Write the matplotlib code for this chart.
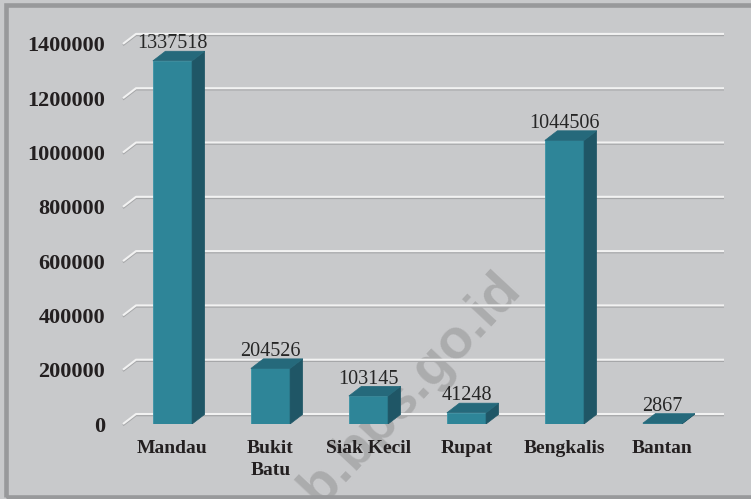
import matplotlib
matplotlib.use("Agg")
import matplotlib.pyplot as plt
from matplotlib.patches import Polygon, Rectangle
from matplotlib import transforms

# data
kecamatan = ["Mandau", "Bukit\nBatu", "Siak Kecil", "Rupat", "Bengkalis", "Bantan"]
nilai = [1337518, 204526, 103145, 41248, 1044506, 2867]
yticks = [0, 200000, 400000, 600000, 800000, 1000000, 1200000, 1400000]

# colours / sizes
BG = "#c8c9cb"
FRONT = "#2e8598"
TOP = "#25697b"
SIDE = "#1f5666"
BAR_W = 0.4
DX = 0.128        # depth in category units
DY = 35500        # depth in value units
GDX = 0.133
GDY = 36800

plt.rcParams["font.family"] = "Liberation Serif"

fig = plt.figure(figsize=(7.51, 4.99), dpi=100, facecolor=BG)
ax = fig.add_axes([123 / 751, 75 / 499, 601 / 751, 400 / 499])
ax.set_facecolor("none")
ax.set_xlim(-0.505, 5.628)
ax.set_ylim(0, 1473300)
for s in ax.spines.values():
    s.set_visible(False)

# gridlines on the back wall with a little diagonal stub in front
x0, x1 = ax.get_xlim()
shadow = transforms.offset_copy(ax.transData, fig=fig, x=0, y=-1.0, units="points")
for v in yticks:
    xs = [x0, x0 + GDX, x1]
    ys = [v, v + GDY, v + GDY]
    ax.plot(xs, ys, color="#a6a7a9", lw=1.3, transform=shadow, zorder=1,
            clip_on=False, solid_capstyle="butt")
    ax.plot(xs, ys, color="#f2f2f2", lw=1.5, zorder=1.1, clip_on=False,
            solid_capstyle="butt")

# bars with fake 3d faces
for i, v in enumerate(nilai):
    l = i - BAR_W / 2
    r = i + BAR_W / 2
    ax.add_patch(Rectangle((l, 0), BAR_W, v, facecolor=FRONT,
                           edgecolor="#3a93a6", lw=0.6, zorder=3))
    ax.add_patch(Polygon([(r, 0), (r + DX, DY), (r + DX, v + DY), (r, v)],
                         closed=True, facecolor=SIDE, edgecolor=SIDE, lw=0.5, zorder=3))
    ax.add_patch(Polygon([(l, v), (r, v), (r + DX, v + DY), (l + DX, v + DY)],
                         closed=True, facecolor=TOP, edgecolor=TOP, lw=0.5, zorder=3))
    ax.annotate(str(v), (i, v + DY), xytext=(0, 2), textcoords="offset points",
                ha="center", va="baseline", fontsize=14.5, color="#262626", zorder=4)

ax.set_xticks(range(len(kecamatan)))
ax.set_xticklabels(kecamatan, fontweight="bold", fontsize=14, color="#231f20",
                   linespacing=1.4)
ax.set_yticks(yticks)
ax.set_yticklabels([str(t) for t in yticks], fontweight="bold", fontsize=16,
                   color="#231f20")
ax.tick_params(axis="both", length=0)
ax.tick_params(axis="y", pad=13)
ax.tick_params(axis="x", pad=11.5)

# watermark, sits behind the chart
fig.text(522 / 751, (499 - 290) / 499, "bengkaliskab.bps.go.id", family="Liberation Sans",
         fontweight="bold", fontsize=40, color="#808080", alpha=0.4,
         rotation=47, rotation_mode="anchor", ha="right", va="baseline", zorder=-1)

# frame of the picture (right side is cut off)
fig.add_artist(Rectangle((5.5 / 751, 2 / 499), 1.05, 491.7 / 499,
                         transform=fig.transFigure, fill=False,
                         edgecolor="#98999b", lw=3.3))

fig.savefig("out.png", dpi=100, facecolor=BG)
